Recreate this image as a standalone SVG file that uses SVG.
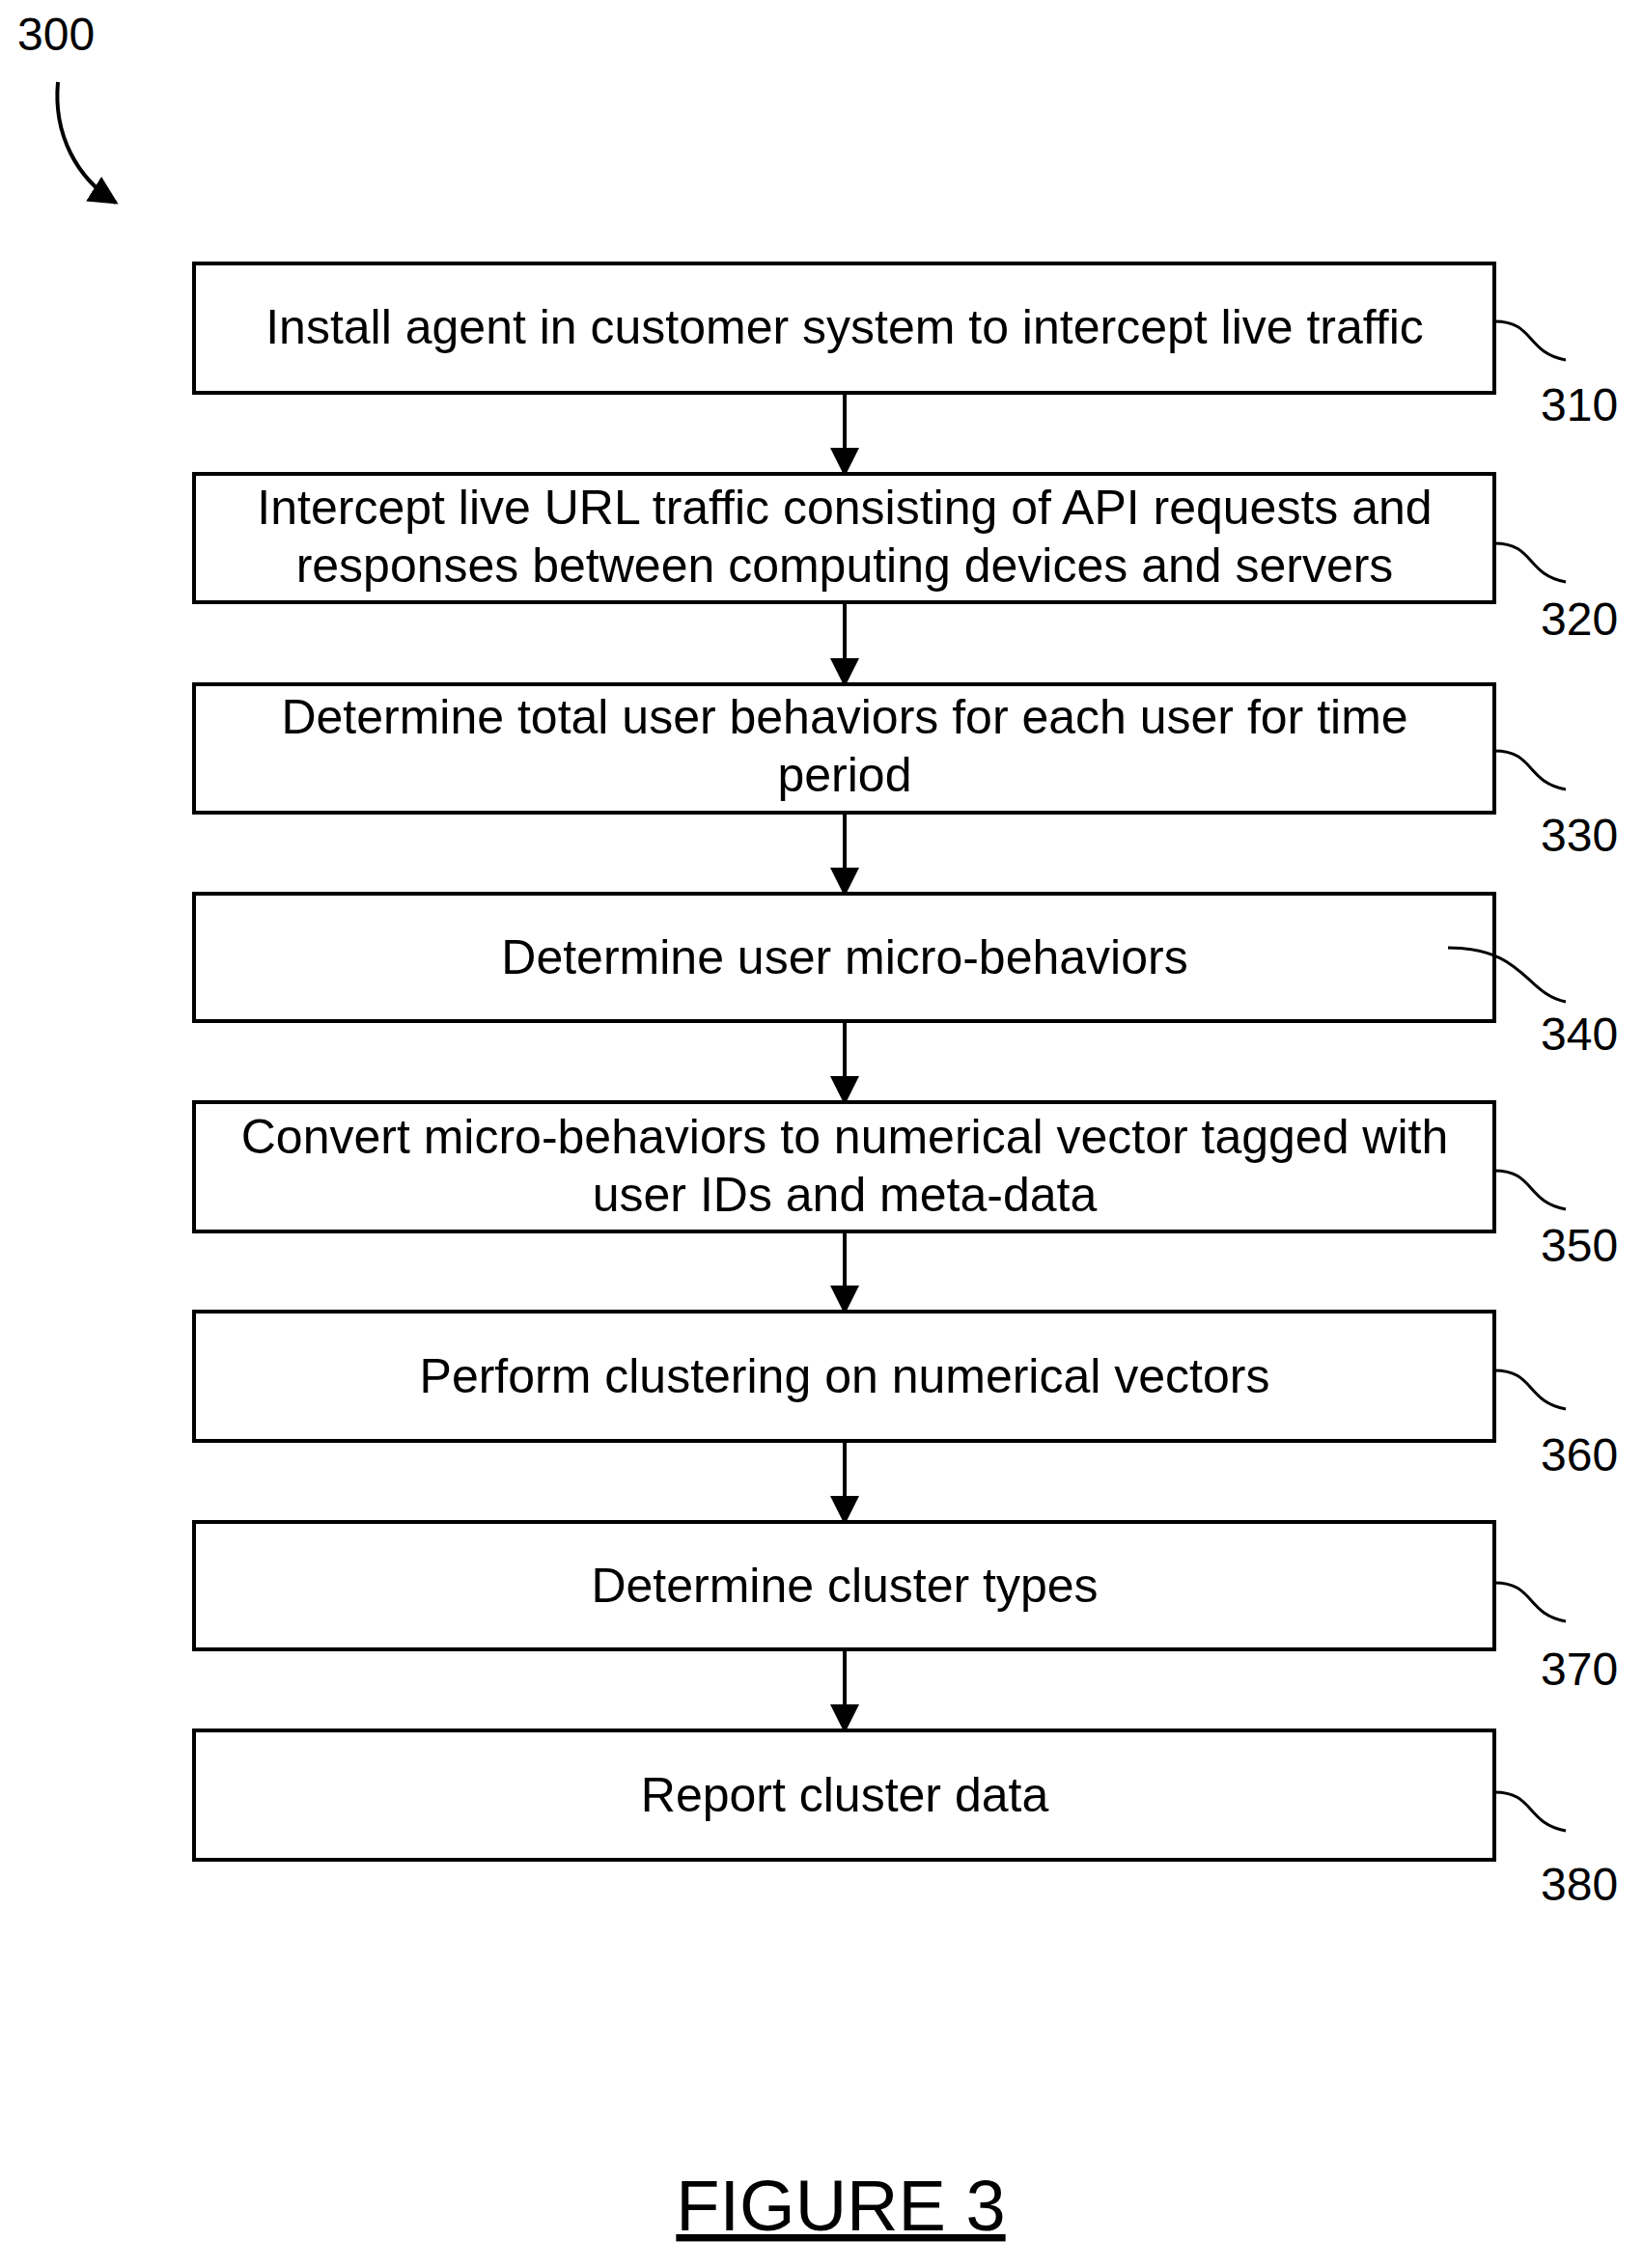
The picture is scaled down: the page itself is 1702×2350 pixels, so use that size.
<svg xmlns="http://www.w3.org/2000/svg" width="1702" height="2350" viewBox="0 0 1702 2350">
<style>
.box{fill:#fff;stroke:#000;stroke-width:4}
.t{font-family:"Liberation Sans",Arial,sans-serif;font-size:50px;text-anchor:middle;fill:#000}
.n{font-family:"Liberation Sans",Arial,sans-serif;font-size:48px;fill:#000}
.c{fill:none;stroke:#000;stroke-width:4}
.l{fill:none;stroke:#000;stroke-width:3}
</style>
<defs>
<marker id="a" viewBox="0 0 10 10" refX="9" refY="5" markerWidth="7.5" markerHeight="7.5" orient="auto" markerUnits="strokeWidth">
<path d="M0,0 L10,5 L0,10 z" fill="#000"/>
</marker>
</defs>
<rect width="1702" height="2350" fill="#fff"/>
<text class="n" x="18" y="52">300</text>
<path class="c" d="M60,85 C55,140 80,185 120,210" marker-end="url(#a)"/>
<g id="connectors">
<line class="c" x1="875" y1="408" x2="875" y2="491" marker-end="url(#a)"/>
<line class="c" x1="875" y1="625" x2="875" y2="709" marker-end="url(#a)"/>
<line class="c" x1="875" y1="843" x2="875" y2="926" marker-end="url(#a)"/>
<line class="c" x1="875" y1="1059" x2="875" y2="1142" marker-end="url(#a)"/>
<line class="c" x1="875" y1="1277" x2="875" y2="1359" marker-end="url(#a)"/>
<line class="c" x1="875" y1="1494" x2="875" y2="1577" marker-end="url(#a)"/>
<line class="c" x1="875" y1="1710" x2="875" y2="1793" marker-end="url(#a)"/>
</g>
<g id="n310"><rect class="box" x="201" y="273" width="1347" height="134"/><text class="t" x="875" y="356">Install agent in customer system to intercept live traffic</text><path class="l" d="M1548,333 C1590,333 1580,365 1622,373"/><text class="n" x="1596" y="436">310</text></g>
<g id="n320"><rect class="box" x="201" y="491" width="1347" height="133"/><text class="t" x="875" y="543">Intercept live URL traffic consisting of API requests and</text><text class="t" x="875" y="603">responses between computing devices and servers</text><path class="l" d="M1548,563 C1590,563 1580,595 1622,603"/><text class="n" x="1596" y="658">320</text></g>
<g id="n330"><rect class="box" x="201" y="709" width="1347" height="133"/><text class="t" x="875" y="760">Determine total user behaviors for each user for time</text><text class="t" x="875" y="820">period</text><path class="l" d="M1548,778 C1590,778 1580,810 1622,818"/><text class="n" x="1596" y="882">330</text></g>
<g id="n340"><rect class="box" x="201" y="926" width="1347" height="132"/><text class="t" x="875" y="1009">Determine user micro-behaviors</text><path class="l" d="M1500,982 C1580,982 1580,1030 1622,1038"/><text class="n" x="1596" y="1088">340</text></g>
<g id="n350"><rect class="box" x="201" y="1142" width="1347" height="134"/><text class="t" x="875" y="1195">Convert micro-behaviors to numerical vector tagged with</text><text class="t" x="875" y="1255">user IDs and meta-data</text><path class="l" d="M1548,1213 C1590,1213 1580,1245 1622,1253"/><text class="n" x="1596" y="1307">350</text></g>
<g id="n360"><rect class="box" x="201" y="1359" width="1347" height="134"/><text class="t" x="875" y="1443">Perform clustering on numerical vectors</text><path class="l" d="M1548,1420 C1590,1420 1580,1452 1622,1460"/><text class="n" x="1596" y="1524">360</text></g>
<g id="n370"><rect class="box" x="201" y="1577" width="1347" height="132"/><text class="t" x="875" y="1660">Determine cluster types</text><path class="l" d="M1548,1640 C1590,1640 1580,1672 1622,1680"/><text class="n" x="1596" y="1746">370</text></g>
<g id="n380"><rect class="box" x="201" y="1793" width="1347" height="134"/><text class="t" x="875" y="1877">Report cluster data</text><path class="l" d="M1548,1857 C1590,1857 1580,1889 1622,1897"/><text class="n" x="1596" y="1969">380</text></g>
<text x="871" y="2311" style="font-family:'Liberation Sans',Arial,sans-serif;font-size:74px;text-anchor:middle;text-decoration:underline">FIGURE 3</text>
</svg>
